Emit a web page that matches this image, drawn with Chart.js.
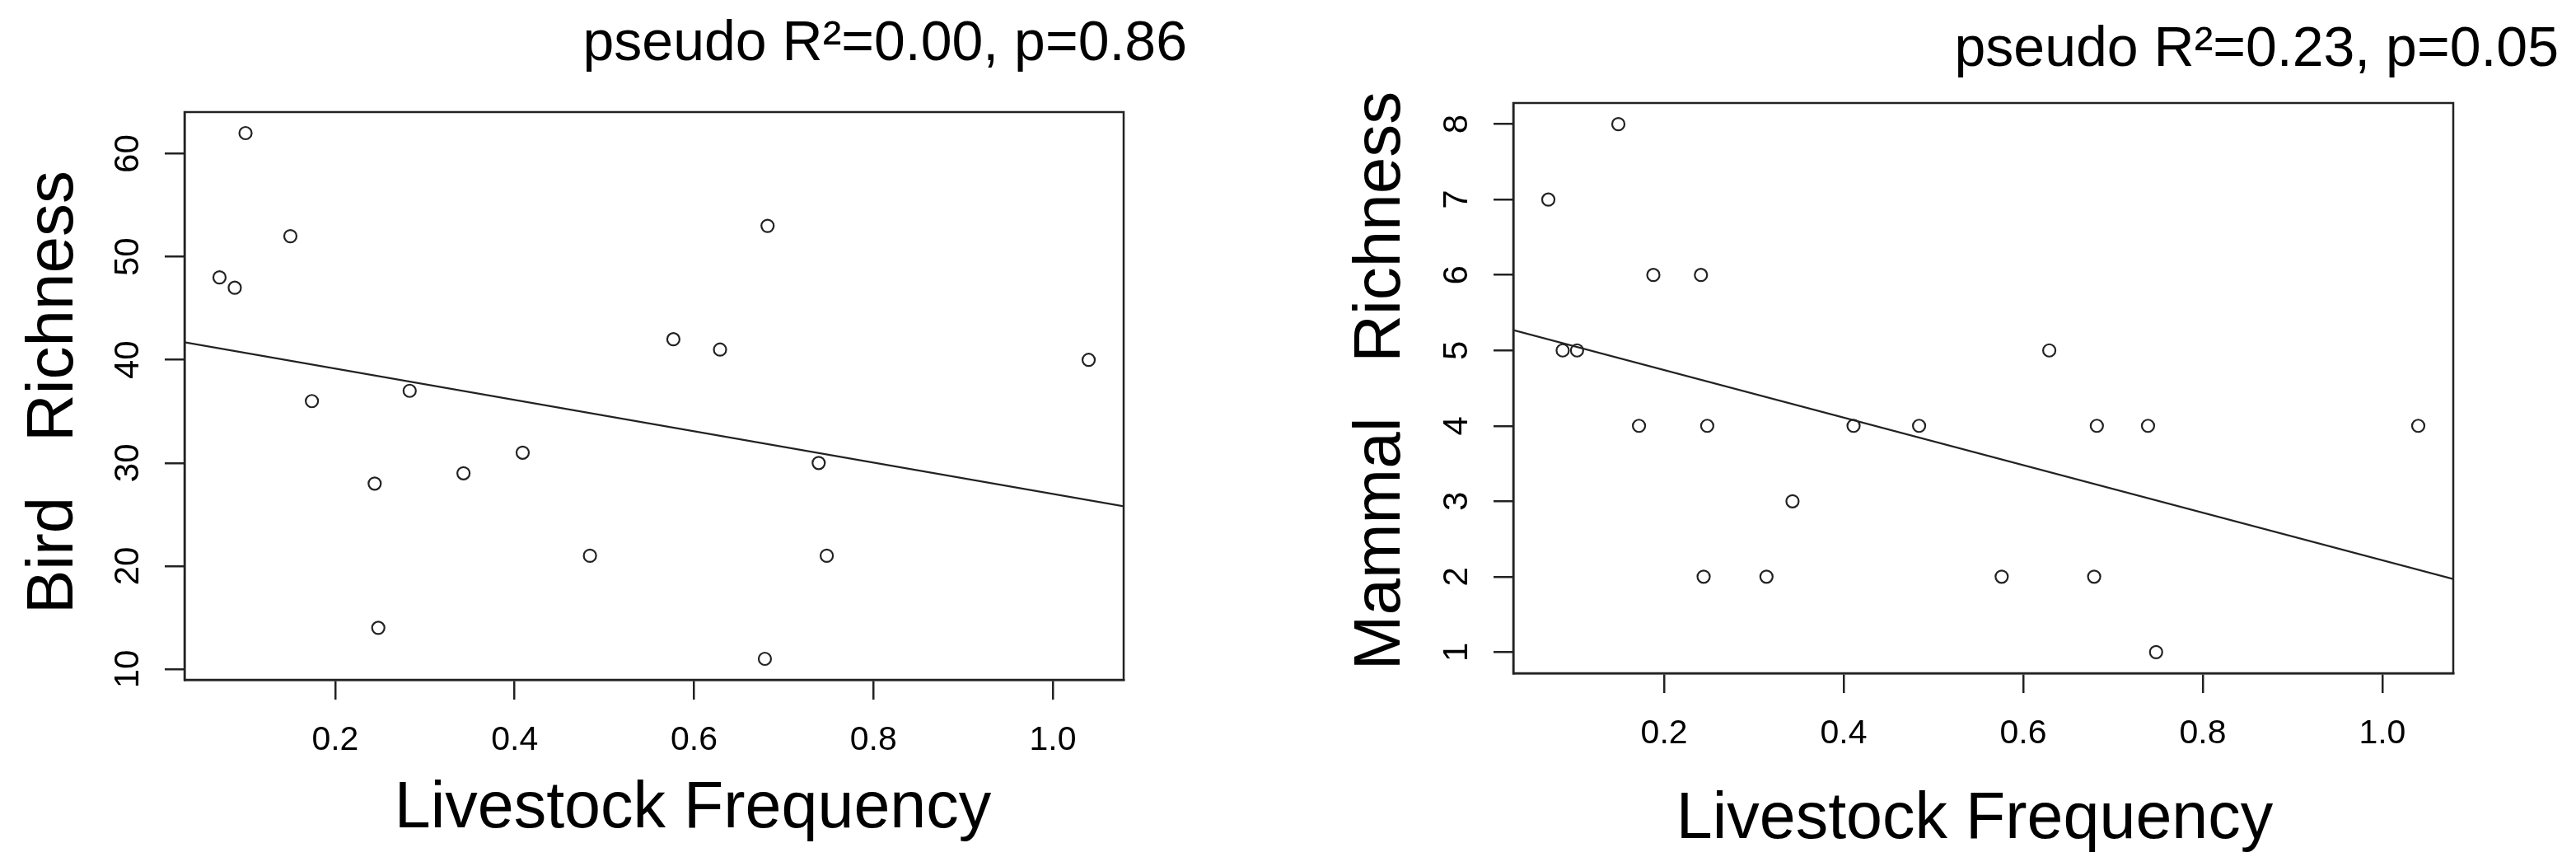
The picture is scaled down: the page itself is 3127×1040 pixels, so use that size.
<!DOCTYPE html>
<html>
<head>
<meta charset="utf-8">
<script src="https://cdn.jsdelivr.net/npm/chart.js@4.4.0/dist/chart.umd.min.js"></script>
<style>
  html, body { margin: 0; padding: 0; background: #fff; }
  #wrap { position: relative; width: 3127px; height: 1040px; }
  canvas { position: absolute; top: 0; }
  #birdChart { left: 0; }
  #mammalChart { left: 1563px; }
</style>
</head>
<body>
<div id="wrap">
  <canvas id="birdChart" width="1563" height="1040"></canvas>
  <canvas id="mammalChart" width="1564" height="1040"></canvas>
</div>
<script>
// Bird panel: livestock frequency vs bird richness
const birdFreq = [0.071, 0.088, 0.100, 0.150, 0.174, 0.244, 0.248, 0.283, 0.343, 0.409, 0.484, 0.577, 0.629, 0.679, 0.682, 0.739, 0.748, 1.040];
const birdRichness = [48, 47, 62, 52, 36, 28, 14, 37, 29, 31, 21, 42, 41, 11, 53, 30, 21, 40];
const birdFitX = [0.032, 1.079];
const birdFitY = [41.7, 25.8];
const birdYTicks = [10, 20, 30, 40, 50, 60];
const birdYRange = [8.96, 64.04];

// Mammal panel: livestock frequency vs mammal richness
const mammalFreq = [0.071, 0.087, 0.103, 0.149, 0.172, 0.188, 0.241, 0.244, 0.248, 0.314, 0.343, 0.411, 0.484, 0.576, 0.629, 0.679, 0.682, 0.739, 0.748, 1.040];
const mammalRichness = [7, 5, 5, 8, 4, 6, 6, 2, 4, 2, 3, 4, 4, 2, 5, 2, 4, 4, 1, 4];
const mammalFitX = [0.032, 1.079];
const mammalFitY = [5.27, 1.97];
const mammalYTicks = [1, 2, 3, 4, 5, 6, 7, 8];
const mammalYRange = [0.72, 8.28];

// shared x axis
const xTicks = [0.2, 0.4, 0.6, 0.8, 1.0];
const xRange = [0.032, 1.079];

const ink = '#222';
const face = '"Liberation Sans", Arial, Helvetica, sans-serif';

// box, tick labels and titles drawn the way R's base plot does
const rPlotText = {
    id: 'rPlotText',
    afterDraw(chart, args, opts) {
        const { ctx, chartArea: a, scales: { x, y } } = chart;
        ctx.save();
        ctx.strokeStyle = ink;
        ctx.lineWidth = 2.5;
        ctx.strokeRect(a.left, a.top, a.right - a.left, a.bottom - a.top);

        ctx.fillStyle = '#000';
        ctx.textAlign = 'center';
        ctx.textBaseline = 'alphabetic';

        // x tick labels
        ctx.font = '41px ' + face;
        x.ticks.forEach(t => {
            ctx.fillText(t.value.toFixed(1), x.getPixelForValue(t.value), a.bottom + 85);
        });

        // y tick labels run along the axis
        ctx.font = '42px ' + face;
        y.ticks.forEach(t => {
            ctx.save();
            ctx.translate(a.left - 56, y.getPixelForValue(t.value));
            ctx.rotate(-Math.PI / 2);
            ctx.fillText(String(t.value), 0, 0);
            ctx.restore();
        });

        // axis titles
        ctx.font = '79px ' + face;
        ctx.fillText(opts.xTitle, opts.xTitleAt[0], opts.xTitleAt[1]);
        ctx.save();
        ctx.font = '80px ' + face;
        ctx.translate(opts.yTitleAt[0], opts.yTitleAt[1]);
        ctx.rotate(-Math.PI / 2);
        ctx.fillText(opts.yTitle, 0, 0);
        ctx.restore();

        // fit statistics
        ctx.font = '68px ' + face;
        ctx.textAlign = 'right';
        ctx.fillText(opts.stats, opts.statsAt[0], opts.statsAt[1]);
        ctx.restore();
    }
};

function makePanel(canvasId, freq, richness, fitX, fitY, yTicks, yRange, box, text) {
    const canvas = document.getElementById(canvasId);
    const W = canvas.width, H = canvas.height;
    return new Chart(canvas.getContext('2d'), {
        type: 'scatter',
        data: {
            datasets: [
                {
                    label: 'sites',
                    data: freq.map((f, i) => ({ x: f, y: richness[i] })),
                    pointStyle: 'circle',
                    pointRadius: 7.5,
                    pointBorderWidth: 2.2,
                    pointBorderColor: ink,
                    pointBackgroundColor: 'rgba(0,0,0,0)'
                },
                {
                    label: 'fit',
                    data: fitX.map((f, i) => ({ x: f, y: fitY[i] })),
                    showLine: true,
                    borderColor: ink,
                    borderWidth: 2.2,
                    pointRadius: 0
                }
            ]
        },
        options: {
            responsive: false,
            animation: false,
            devicePixelRatio: 1,
            layout: { padding: { left: 0, top: box.top, right: W - box.right, bottom: 0 } },
            plugins: {
                legend: { display: false },
                tooltip: { enabled: false },
                rPlotText: text
            },
            scales: {
                x: {
                    type: 'linear',
                    min: xRange[0],
                    max: xRange[1],
                    afterBuildTicks: s => { s.ticks = xTicks.map(v => ({ value: v })); },
                    afterFit: s => { s.height = H - box.bottom; },
                    ticks: { display: false },
                    grid: { drawOnChartArea: false, drawTicks: true, tickLength: 24, color: ink, lineWidth: 2.5 },
                    border: { display: true, color: ink, width: 2.5 }
                },
                y: {
                    type: 'linear',
                    min: yRange[0],
                    max: yRange[1],
                    afterBuildTicks: s => { s.ticks = yTicks.map(v => ({ value: v })); },
                    afterFit: s => { s.width = box.left; },
                    ticks: { display: false },
                    grid: { drawOnChartArea: false, drawTicks: true, tickLength: 24, color: ink, lineWidth: 2.5 },
                    border: { display: true, color: ink, width: 2.5 }
                }
            }
        },
        plugins: [rPlotText]
    });
}

makePanel('birdChart', birdFreq, birdRichness, birdFitX, birdFitY, birdYTicks, birdYRange,
    { left: 224, right: 1364, top: 136, bottom: 825 },
    {
        stats: 'pseudo R\u00b2=0.00, p=0.86', statsAt: [1441, 73],
        xTitle: 'Livestock Frequency', xTitleAt: [841, 1004],
        yTitle: 'Bird   Richness', yTitleAt: [88, 476]
    });

makePanel('mammalChart', mammalFreq, mammalRichness, mammalFitX, mammalFitY, mammalYTicks, mammalYRange,
    { left: 274, right: 1415, top: 125, bottom: 817 },
    {
        stats: 'pseudo R\u00b2=0.23, p=0.05', statsAt: [1543, 80],
        xTitle: 'Livestock Frequency', xTitleAt: [834, 1017],
        yTitle: 'Mammal   Richness', yTitleAt: [136, 462]
    });
</script>
</body>
</html>
